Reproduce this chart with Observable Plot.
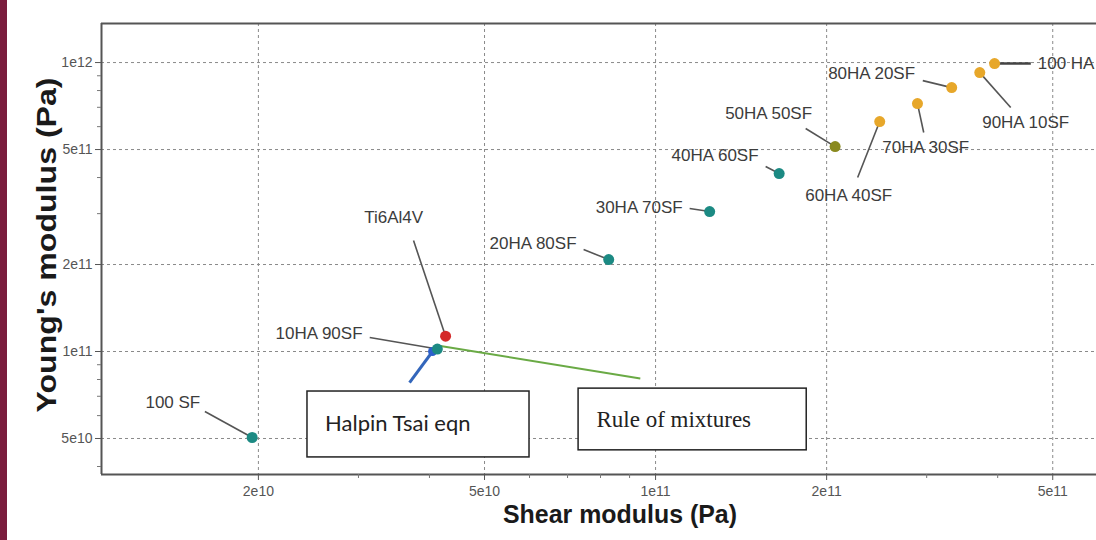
<!DOCTYPE html>
<html>
<head>
<meta charset="utf-8">
<script src="https://cdn.jsdelivr.net/npm/d3@7"></script>
<script src="https://cdn.jsdelivr.net/npm/@observablehq/plot@0.6"></script>
<style>
  html, body { margin: 0; padding: 0; background: #ffffff; }
  #chart { position: absolute; left: 0; top: 0; }
  #bar { position: absolute; left: 0; top: 0; width: 7px; height: 540px; background: #7a1d3d; }
</style>
</head>
<body>
<div id="chart"></div>
<div id="bar"></div>
<script>
// ---------- data ----------
const samples = ["100 SF", "10HA 90SF", "20HA 80SF", "30HA 70SF", "40HA 60SF", "50HA 50SF",
                 "60HA 40SF", "70HA 30SF", "80HA 20SF", "90HA 10SF", "100 HA", "Ti6Al4V"];
const shearModulus = [1.95e10, 4.13e10, 8.27e10, 1.245e11, 1.65e11, 2.07e11,
                      2.48e11, 2.89e11, 3.32e11, 3.72e11, 3.95e11, 4.27e10];
const youngsModulus = [5.04e10, 1.02e11, 2.08e11, 3.05e11, 4.13e11, 5.12e11,
                       6.25e11, 7.21e11, 8.19e11, 9.23e11, 9.92e11, 1.13e11];
const group = ["SF-rich", "SF-rich", "SF-rich", "SF-rich", "SF-rich", "Equal",
               "HA-rich", "HA-rich", "HA-rich", "HA-rich", "HA-rich", "Alloy"];

// model estimates for 10HA 90SF
const models = ["Halpin Tsai eqn", "Rule of mixtures"];
const modelShear = [4.05e10, 4.13e10];
const modelYoung = [1.0e11, 1.049e11];

// axis ticks
const xMajor = [2e10, 5e10, 1e11, 2e11, 5e11];
const xTickLabels = ["2e10", "5e10", "1e11", "2e11", "5e11"];
const xMinor = [3e10, 4e10, 6e10, 7e10, 8e10, 9e10, 3e11, 4e11];
const yMajor = [5e10, 1e11, 2e11, 5e11, 1e12];
const yTickLabels = ["5e10", "1e11", "2e11", "5e11", "1e12"];
const yMinor = [4e10, 6e10, 7e10, 8e10, 9e10, 3e11, 4e11, 6e11, 7e11, 8e11, 9e11];

// ---------- annotation layout (data coordinates) ----------
const labelX = [1.58e10, 3.05e10, 7.26e10, 1.116e11, 1.518e11, 1.581e11,
                2.187e11, 2.988e11, 2.40e11, 4.48e11, 4.705e11, 3.46e10];
const labelY = [6.66e10, 1.154e11, 2.364e11, 3.15e11, 4.77e11, 6.66e11,
                3.466e11, 5.08e11, 9.16e11, 6.20e11, 9.92e11, 2.909e11];
const labelAnchor = ["end", "end", "end", "end", "end", "middle",
                     "middle", "middle", "middle", "middle", "start", "middle"];
const leaderX = [1.61e10, 3.14e10, 7.47e10, 1.148e11, 1.562e11, 1.837e11,
                 2.268e11, 2.964e11, 2.953e11, 4.217e11, 4.575e11, 3.75e10];
const leaderY = [6.2e10, 1.118e11, 2.254e11, 3.125e11, 4.366e11, 5.91e11,
                 4.0e11, 5.725e11, 8.66e11, 6.99e11, 9.92e11, 2.42e11];
const modelLineEndX = [3.69e10, 9.4e10];
const modelLineEndY = [7.8e10, 8.06e10];
const boxX1 = [2.44e10, 7.32e10];
const boxX2 = [6.0e10, 1.845e11];
const boxY1 = [4.30e10, 4.55e10];
const boxY2 = [7.27e10, 7.44e10];
const boxTextX = [2.62e10, 7.87e10];
const boxTextY = [5.63e10, 5.82e10];

// ---------- tables ----------
const points = samples.map((s, i) => ({
  sample: s, G: shearModulus[i], E: youngsModulus[i], group: group[i],
  lx: labelX[i], ly: labelY[i], anchor: labelAnchor[i], kx: leaderX[i], ky: leaderY[i]
}));
const modelRows = models.map((m, i) => ({
  model: m, G: modelShear[i], E: modelYoung[i], ex: modelLineEndX[i], ey: modelLineEndY[i],
  x1: boxX1[i], x2: boxX2[i], y1: boxY1[i], y2: boxY2[i], tx: boxTextX[i], ty: boxTextY[i]
}));
const xTickMap = new Map(xMajor.map((v, i) => [v, xTickLabels[i]]));
const yTickMap = new Map(yMajor.map((v, i) => [v, yTickLabels[i]]));

const narrow = "'Liberation Sans Narrow', 'Liberation Sans', Arial, sans-serif";

const chart = Plot.plot({
  width: 1096,
  height: 540,
  marginLeft: 101,
  marginRight: 0,
  marginTop: 23,
  marginBottom: 66,
  style: { fontFamily: narrow, background: "transparent", color: "#444" },
  x: { type: "log", domain: [1.059e10, 5.97e11], axis: null },
  y: { type: "log", domain: [3.753e10, 1.365e12], axis: null },
  color: {
    domain: ["SF-rich", "Equal", "HA-rich", "Alloy", "Halpin Tsai eqn"],
    range: ["#1c8a83", "#8a8a1f", "#e7a72a", "#d42a2a", "#2c5fcc"]
  },
  marks: [
    Plot.gridX(xMajor, { stroke: "#8a8a8a", strokeOpacity: 1, strokeDasharray: "3,3" }),
    Plot.gridY(yMajor, { stroke: "#8a8a8a", strokeOpacity: 1, strokeDasharray: "3,3" }),
    // frame: left, bottom, top
    Plot.ruleX([1.059e10], { stroke: "#555", strokeWidth: 2 }),
    Plot.ruleY([3.753e10], { stroke: "#555", strokeWidth: 2 }),
    Plot.ruleY([1.365e12], { stroke: "#555", strokeWidth: 2 }),
    // axes
    Plot.axisX(xMajor, { anchor: "bottom", tickSize: 6, tickPadding: 6, fontSize: 14,
      stroke: "#555", fill: "#555", label: null, tickFormat: d => xTickMap.get(d) }),
    Plot.axisX(xMinor, { anchor: "bottom", tickSize: 4, stroke: "#777", label: null, tickFormat: () => "" }),
    Plot.axisY(yMajor, { anchor: "left", tickSize: 6, tickPadding: 3, fontSize: 14,
      stroke: "#555", fill: "#555", label: null, tickFormat: d => yTickMap.get(d) }),
    Plot.axisY(yMinor, { anchor: "left", tickSize: 4, stroke: "#777", label: null, tickFormat: () => "" }),
    // axis titles
    Plot.text(["Young's modulus (Pa)"], { frameAnchor: "left", textAnchor: "middle", dx: -54, dy: -4, rotate: -90,
      fontSize: 28, fontWeight: "bold", fill: "#1a1a1a", fontFamily: "'Liberation Sans', Arial, sans-serif" }),
    Plot.text(["Shear modulus (Pa)"], { frameAnchor: "bottom", textAnchor: "middle", dx: 21, dy: 48,
      fontSize: 26, fontWeight: "bold", fill: "#1a1a1a", fontFamily: narrow }),
    // model boxes
    Plot.rect(modelRows, { x1: "x1", x2: "x2", y1: "y1", y2: "y2", fill: "white", stroke: "#222", strokeWidth: 1.5 }),
    Plot.text(modelRows.slice(0, 1), { x: "tx", y: "ty", text: "model", textAnchor: "start",
      fontSize: 22, fill: "#222", fontFamily: "Lato, 'Open Sans', sans-serif" }),
    Plot.text(modelRows.slice(1), { x: "tx", y: "ty", text: "model", textAnchor: "start",
      fontSize: 23, fill: "#222", fontFamily: "'Liberation Serif', 'DejaVu Serif', serif" }),
    // leader lines
    Plot.link(points.filter(d => d.sample !== "100 HA"), { x1: "kx", y1: "ky", x2: "G", y2: "E", stroke: "#555", strokeWidth: 1.6 }),
    Plot.link(points.filter(d => d.sample === "100 HA"), { x1: "kx", y1: "ky", x2: "G", y2: "E", stroke: "#444", strokeWidth: 2.6 }),
    Plot.link(modelRows.slice(1), { x1: "G", y1: "E", x2: "ex", y2: "ey", stroke: "#6aaa45", strokeWidth: 2 }),
    Plot.link(modelRows.slice(0, 1), { x1: "G", y1: "E", x2: "ex", y2: "ey", stroke: "#3366bb", strokeWidth: 3 }),
    // points
    Plot.dot(modelRows.slice(0, 1), { x: "G", y: "E", r: 4.5, fill: "#2c5fcc" }),
    Plot.dot(points, { x: "G", y: "E", r: 5.5, fill: "group" }),
    // labels
    Plot.text(points.filter(d => d.anchor === "end"), { x: "lx", y: "ly", text: "sample", textAnchor: "end",
      fontSize: 17, fill: "#3c3c3c" }),
    Plot.text(points.filter(d => d.anchor === "middle"), { x: "lx", y: "ly", text: "sample", textAnchor: "middle",
      fontSize: 17, fill: "#3c3c3c" }),
    Plot.text(points.filter(d => d.anchor === "start"), { x: "lx", y: "ly", text: "sample", textAnchor: "start",
      fontSize: 17, fill: "#3c3c3c" })
  ]
});

d3.select(chart).selectAll("text").each(function () {
  const t = this.textContent;
  if (t === "Young's modulus (Pa)") {
    this.setAttribute("textLength", 335);
    this.setAttribute("lengthAdjust", "spacingAndGlyphs");
  } else if (t === "Shear modulus (Pa)") {
    this.setAttribute("textLength", 234);
    this.setAttribute("lengthAdjust", "spacingAndGlyphs");
  }
});

document.getElementById("chart").appendChild(chart);
</script>
</body>
</html>
